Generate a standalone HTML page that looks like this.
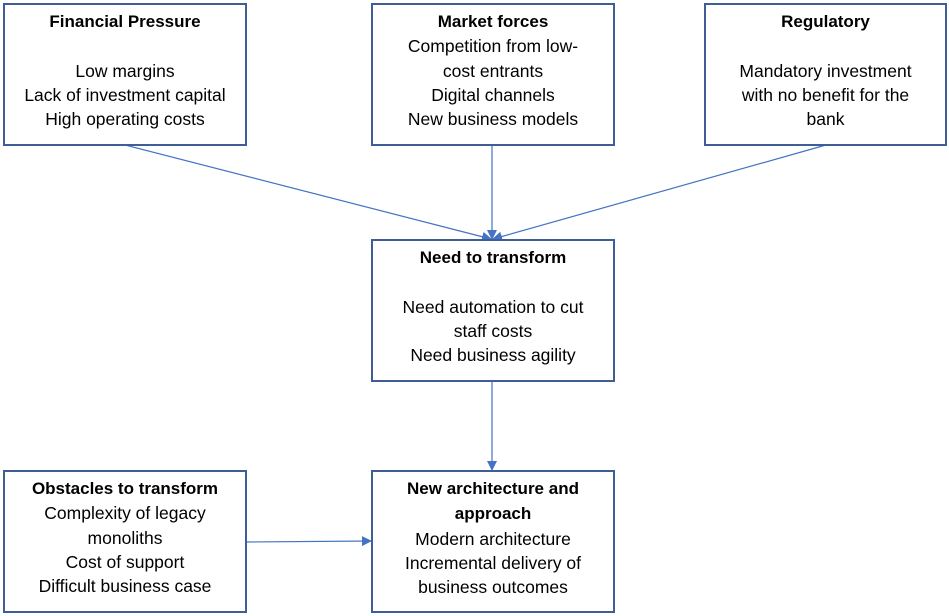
<!DOCTYPE html>
<html><head><meta charset="utf-8"><style>
body{margin:0;width:949px;height:616px;background:#fff;position:relative;overflow:hidden;font-family:"Liberation Sans",sans-serif;}
.b{position:absolute;box-sizing:border-box;border:2px solid #3f5e96;background:#fff;text-align:center;font-size:17.5px;line-height:24.3px;color:#000;padding-top:4px;white-space:nowrap;}
.b b{font-weight:bold;font-size:17px;}
svg{position:absolute;left:0;top:0;}
</style></head><body>
<svg width="949" height="616">
<defs><marker id="a" markerWidth="10" markerHeight="10" refX="9" refY="5" orient="auto" markerUnits="userSpaceOnUse"><path d="M0,0 L10,5 L0,10 z" fill="#4472c4"/></marker></defs>
<g stroke="#4472c4" stroke-width="1.2" fill="none">
<line x1="125" y1="145" x2="491" y2="239" marker-end="url(#a)"/>
<line x1="492" y1="145" x2="492" y2="239" marker-end="url(#a)"/>
<line x1="826" y1="145" x2="493" y2="239" marker-end="url(#a)"/>
<line x1="492" y1="381" x2="492" y2="470" marker-end="url(#a)"/>
<line x1="246" y1="542" x2="371" y2="541" marker-end="url(#a)"/>
</g></svg>
<div class="b" style="left:3px;top:3px;width:244px;height:143px"><b>Financial Pressure</b><br>&nbsp;<br>Low margins<br>Lack of investment capital<br>High operating costs</div>
<div class="b" style="left:371px;top:3px;width:244px;height:143px"><b>Market forces</b><br>Competition from low-<br>cost entrants<br>Digital channels<br>New business models</div>
<div class="b" style="left:704px;top:3px;width:243px;height:143px"><b>Regulatory</b><br>&nbsp;<br>Mandatory investment<br>with no benefit for the<br>bank</div>
<div class="b" style="left:371px;top:239px;width:244px;height:143px"><b>Need to transform</b><br>&nbsp;<br>Need automation to cut<br>staff costs<br>Need business agility</div>
<div class="b" style="left:3px;top:470px;width:244px;height:143px"><b>Obstacles to transform</b><br>Complexity of legacy<br>monoliths<br>Cost of support<br>Difficult business case</div>
<div class="b" style="left:371px;top:470px;width:244px;height:143px"><b>New architecture and<br>approach</b><br>Modern architecture<br>Incremental delivery of<br>business outcomes</div>
</body></html>
